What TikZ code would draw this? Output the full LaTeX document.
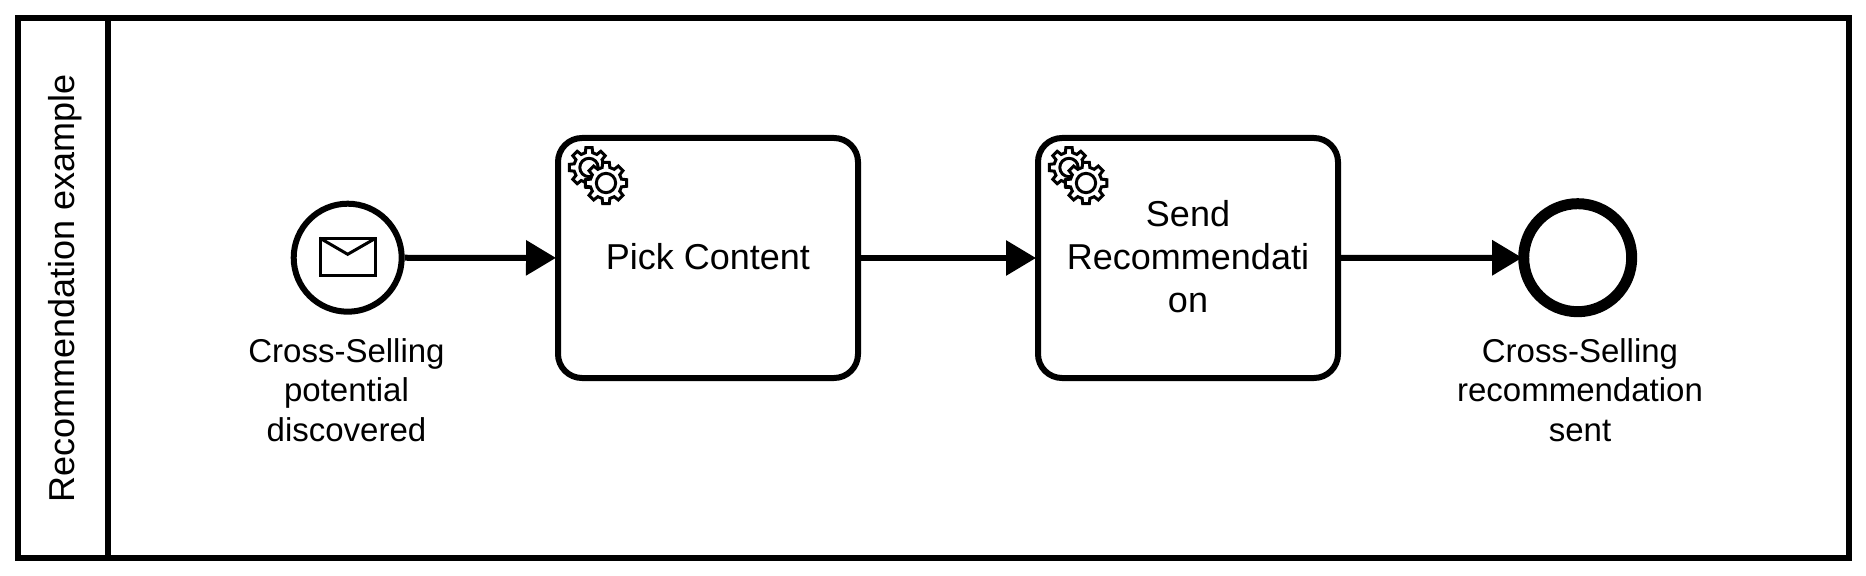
\documentclass[tikz,border=0pt]{standalone}
\usepackage{fontspec}
\setmainfont{Liberation Sans}
\usetikzlibrary{arrows.meta}
\newcommand{\gearat}[3]{%
  \begin{scope}[shift={(#1,#2)}]
    \filldraw[gearline,fill=white]
      (-14:#3*0.76)
      \foreach \a in {0,45,...,315} {
        -- (\a-14:#3*0.76) -- (\a-9:#3) -- (\a+9:#3) -- (\a+14:#3*0.76)
      } -- cycle;
    \filldraw[gearline,fill=white] (0,0) circle[radius=#3*0.46];
  \end{scope}}
\tikzset{
  x=1bp,y=-1bp,
  every node/.style={font=\fontsize{36bp}{39.5bp}\selectfont,text=black,inner sep=0pt},
  pool/.style={draw=black,line width=6bp,rectangle,minimum width=1830.5bp,minimum height=539.5bp},
  lane/.style={draw=black,line width=6bp,rectangle,minimum width=90bp,minimum height=539.5bp},
  task/.style={draw=black,line width=6bp,rectangle,rounded corners=24bp,minimum width=300bp,minimum height=240bp,fill=white,align=center,font=\fontsize{36bp}{43bp}\selectfont,execute at end node={\rule[-3bp]{0pt}{1bp}}},
  startev/.style={draw=black,line width=6bp,circle,minimum size=108bp,fill=white},
  endev/.style={draw=black,line width=11bp,circle,minimum size=108bp,fill=white},
  lbl/.style={align=center,font=\fontsize{33bp}{39.5bp}\selectfont},
  flow/.style={draw=black,line width=6bp,-{Triangle[length=30bp,width=34bp]},shorten >=-1bp},
  flowend/.style={flow,shorten >=-4bp},
  gearline/.style={draw=black,line width=3bp,line join=miter},
  envelope/.style={draw=black,line width=3bp,line join=miter}
}
\begin{document}
\begin{tikzpicture}
\useasboundingbox (0,0) rectangle (1866,576);
\fill[white] (0,0) rectangle (1866,576);
\node[pool] (poolbox) at (933.25,287.75) {};
\node[lane] (lanebox) at (63,287.75) {};
\node[rotate=90] (lanelabel) at (65,288) {Recommendation example};

\node[startev] (start) at (347.7,257.7) {};
\node[task] (pick) at (708,258) {Pick Content};
\node[task] (send) at (1188,258) {Send\\Recommendati\\on};
\node[endev] (finish) at (1577.7,257.7) {};

\draw[flow] (start) -- (pick);
\draw[flow] (pick) -- (send);
\draw[flowend] (send) -- (finish);

\node[lbl] (startlabel) at (346.5,390) {Cross-Selling\\potential\\discovered};
\node[lbl] (endlabel) at (1580,390) {Cross-Selling\\recommendation\\sent};

\draw[envelope] (320,238.2) rectangle (375.7,275.3);
\draw[envelope] (320,238.2) -- (347.7,254.3) -- (375.7,238.2);

\gearat{589}{167.5}{20}
\gearat{606}{183}{21}
\gearat{1069}{167.5}{20}
\gearat{1086}{183}{21}
\end{tikzpicture}
\end{document}
